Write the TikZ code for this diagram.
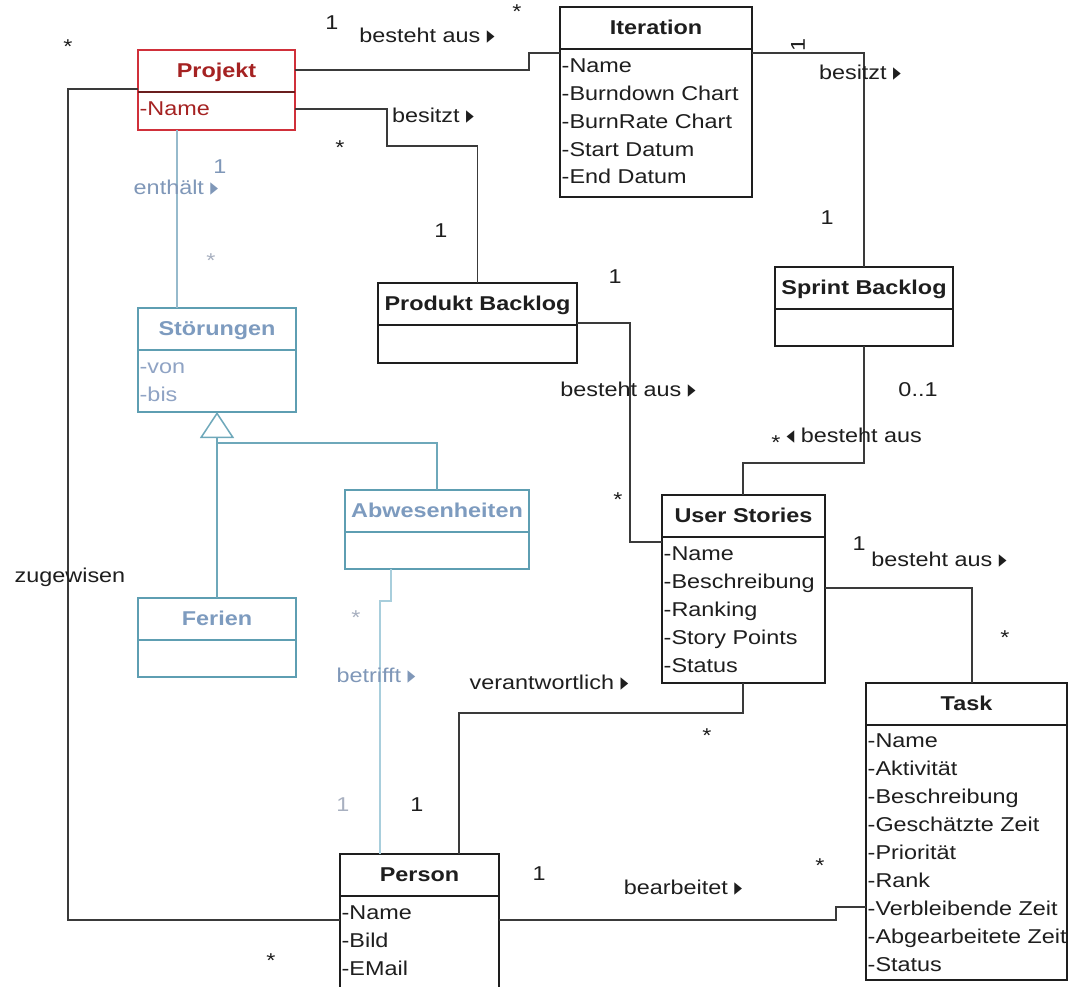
\documentclass[tikz,border=0pt]{standalone}
\usepackage{fontspec}
\setmainfont{Liberation Sans}[FakeStretch=1.17]
\newfontfamily\symfont{DejaVu Sans}
\usetikzlibrary{calc,arrows.meta}

\definecolor{ink}{HTML}{1E1E1E}
\definecolor{wire}{HTML}{3A3A3A}
\definecolor{projred}{HTML}{D0303A}
\definecolor{projdark}{HTML}{6A1E1E}
\definecolor{projtitle}{HTML}{A52222}
\definecolor{absframe}{HTML}{5E9EB2}
\definecolor{abstitle}{HTML}{7D9BBF}
\definecolor{absattr}{HTML}{8FA3C4}
\definecolor{abswire}{HTML}{96BACC}
\definecolor{abswirelt}{HTML}{A8CEDC}
\definecolor{abslabel}{HTML}{7F97B8}
\definecolor{absfaint}{HTML}{A8B0C0}

\newcommand\txt{\fontsize{20}{24}\selectfont}
% narrow reading-direction triangles
\newcommand\rtri{\raisebox{-1.5pt}{\scalebox{0.62}[1]{\symfont\fontsize{25}{25}\selectfont ▸}}}
\newcommand\ltri{\raisebox{-1.5pt}{\scalebox{0.62}[1]{\symfont\fontsize{25}{25}\selectfont ◂}}}

\tikzset{
  % class boxes in three colour schemes
  blkbox/.style={draw=ink, line width=1.9pt, rectangle, inner sep=0pt, outer sep=0pt, anchor=north west, fill=white},
  blkdiv/.style={draw=ink, line width=1.9pt},
  blktitle/.style={font=\txt\bfseries, text=ink, inner sep=0pt, anchor=base},
  blkattr/.style={font=\txt, text=ink, inner sep=0pt, anchor=base west},
  redbox/.style={blkbox, draw=projred},
  reddiv/.style={draw=projdark, line width=1.9pt},
  redtitle/.style={blktitle, text=projtitle},
  redattr/.style={blkattr, text=projtitle},
  tealbox/.style={blkbox, draw=absframe},
  tealdiv/.style={draw=absframe, line width=1.9pt},
  tealtitle/.style={blktitle, text=abstitle},
  tealattr/.style={blkattr, text=absattr},
  % connectors
  assoc/.style={draw=wire, line width=1.3pt},
  softassoc/.style={draw=abswire, line width=1.5pt},
  paleassoc/.style={draw=abswirelt, line width=1.6pt},
  inherit/.style={draw=absframe!90!white, line width=1.5pt},
  % labels
  lbl/.style={font=\txt, text=ink, inner sep=0pt, anchor=base},
  bluelbl/.style={lbl, text=abslabel},
  faintlbl/.style={lbl, text=absfaint},
}

% box, divider and title of one class
\newcommand\umlclass[7]{%
  \node[#7box, minimum width=#4pt, minimum height=#5pt] (#1) at (#2,#3) {};
  \draw[#7div] ($(#1.north west)+(0,42)$) -- ($(#1.north east)+(0,42)$);
  \node[#7title] (#1-title) at ($(#1.north)+(0,27.5)$) {#6};
}

\begin{document}
\begin{tikzpicture}[x=1pt, y=-1pt]
\fill[white] (0,0) rectangle (1070,986);
\useasboundingbox (0,0) rectangle (1070,986);

% ---------- classes ----------
\umlclass{projekt}{138}{50}{157}{80}{Projekt}{red}
\umlclass{iteration}{560}{7}{192}{190}{Iteration}{blk}
\umlclass{produkt}{378}{283}{199}{80}{Produkt Backlog}{blk}
\umlclass{sprint}{775}{267}{178}{79}{Sprint Backlog}{blk}
\umlclass{stoerungen}{138}{308}{158}{104}{Störungen}{teal}
\umlclass{abwesen}{345}{490}{184}{79}{Abwesenheiten}{teal}
\umlclass{ferien}{138}{598}{158}{79}{Ferien}{teal}
\umlclass{stories}{662}{495}{163}{188}{User Stories}{blk}
\umlclass{task}{866}{683}{201}{297}{Task}{blk}
\umlclass{person}{340}{854}{159}{136}{Person}{blk}

% ---------- attributes ----------
\node[redattr] (projekt-a1) at ($(projekt.north west)+(1.5,65)$) {-Name};
\foreach \a [count=\i] in {Name,Burndown Chart,BurnRate Chart,Start Datum,End Datum}
  \node[blkattr] (iteration-a\i) at ($(iteration.north west)+(1.5,38+27.75*\i)$) {-\a};
\foreach \a [count=\i] in {von,bis}
  \node[tealattr] (stoerungen-a\i) at ($(stoerungen.north west)+(1.5,37+28*\i)$) {-\a};
\foreach \a [count=\i] in {Name,Beschreibung,Ranking,Story Points,Status}
  \node[blkattr] (stories-a\i) at ($(stories.north west)+(1.5,37+28*\i)$) {-\a};
\foreach \a [count=\i] in {Name,Aktivität,Beschreibung,Geschätzte Zeit,Priorität,Rank,Verbleibende Zeit,Abgearbeitete Zeit,Status}
  \node[blkattr] (task-a\i) at ($(task.north west)+(1.5,36+28.1*\i)$) {-\a};
\foreach \a [count=\i] in {Name,Bild,EMail}
  \node[blkattr] (person-a\i) at ($(person.north west)+(1.5,37+28*\i)$) {-\a};

% ---------- associations ----------
% Projekt -- Iteration
\draw[assoc] ($(projekt.north east)+(0,20)$) -- ++(234,0) |- ($(iteration.north west)+(0,46)$);
% Projekt -- Produkt Backlog
\draw[assoc] ($(projekt.north east)+(0,59)$) -- ++(92,0) -- ++(0,37) -| (produkt.north);
% Iteration -- Sprint Backlog
\draw[assoc] ($(iteration.north east)+(0,46)$) -| (sprint.north);
% Projekt -- Stoerungen
\draw[softassoc] ($(projekt.south west)+(39,0)$) -- ($(stoerungen.north west)+(39,0)$);
% generalisation
\draw[inherit, -{Triangle[open, length=26pt, width=34pt, fill=white]}] (ferien.north) -- (stoerungen.south);
\draw[inherit] (abwesen.north) |- ($(stoerungen.south)+(0,31)$);
% Abwesenheiten -- Person
\draw[paleassoc] ($(abwesen.south west)+(46,0)$) -- ++(0,32) -| ($(person.north west)+(40,0)$);
% Produkt Backlog -- User Stories
\draw[assoc] ($(produkt.north east)+(0,40)$) -- ++(53,0) |- ($(stories.north west)+(0,47)$);
% Sprint Backlog -- User Stories
\draw[assoc] (sprint.south) -- ++(0,117) -| ($(stories.north west)+(81,0)$);
% User Stories -- Task
\draw[assoc] ($(stories.north east)+(0,93)$) -| ($(task.north west)+(106,0)$);
% User Stories -- Person
\draw[assoc] ($(stories.south west)+(81,0)$) -- ++(0,30) -| ($(person.north west)+(119,0)$);
% Person -- Task
\draw[assoc] ($(person.north east)+(0,66)$) -- ++(337,0) |- ($(task.north west)+(0,224)$);
% Projekt -- Person
\draw[assoc] ($(projekt.north west)+(0,39)$) -- ++(-70,0) |- ($(person.north west)+(0,66)$);

% ---------- labels ----------
\node[lbl] (m1) at (332,29) {1};
\node[lbl] (r1) at (427,42) {besteht aus \rtri};
\node[lbl] (m2) at (517,18) {*};
\node[lbl] (r2) at (433,122) {besitzt \rtri};
\node[lbl] (m3) at (340,154) {*};
\node[lbl] (m4) at (441,237) {1};
\node[lbl, anchor=center, rotate=90] (m5) at (798,45) {1};
\node[lbl] (r3) at (860,79) {besitzt \rtri};
\node[lbl] (m6) at (827,224) {1};
\node[lbl] (m7) at (615,283) {1};
\node[lbl] (r4) at (628,396) {besteht aus \rtri};
\node[lbl] (m8) at (918,396) {0..1};
\node[lbl, anchor=base east] (r5) at (922,442) {\ltri\ besteht aus};
\node[lbl] (m9) at (776,449) {*};
\node[lbl] (m10) at (618,506) {*};
\node[lbl] (m11) at (859,550) {1};
\node[lbl] (r6) at (939,566) {besteht aus \rtri};
\node[lbl] (m12) at (1005,644) {*};
\node[lbl] (r7) at (549,689) {verantwortlich \rtri};
\node[lbl] (m13) at (707,742) {*};
\node[lbl] (m14) at (417,811) {1};
\node[lbl] (m15) at (539,880) {1};
\node[lbl] (r8) at (683,894) {bearbeitet \rtri};
\node[lbl] (m16) at (820,872) {*};
\node[lbl] (m17) at (68,53) {*};
\node[lbl] (r9) at (70,582) {zugewisen};
\node[lbl] (m18) at (271,967) {*};
\node[bluelbl] (m19) at (220,173) {1};
\node[bluelbl] (r10) at (176,194) {enthält \rtri};
\node[faintlbl] (m20) at (211,267) {*};
\node[faintlbl] (m21) at (356,624) {*};
\node[bluelbl] (r11) at (376,682) {betrifft \rtri};
\node[faintlbl] (m22) at (343,811) {1};
\end{tikzpicture}
\end{document}
